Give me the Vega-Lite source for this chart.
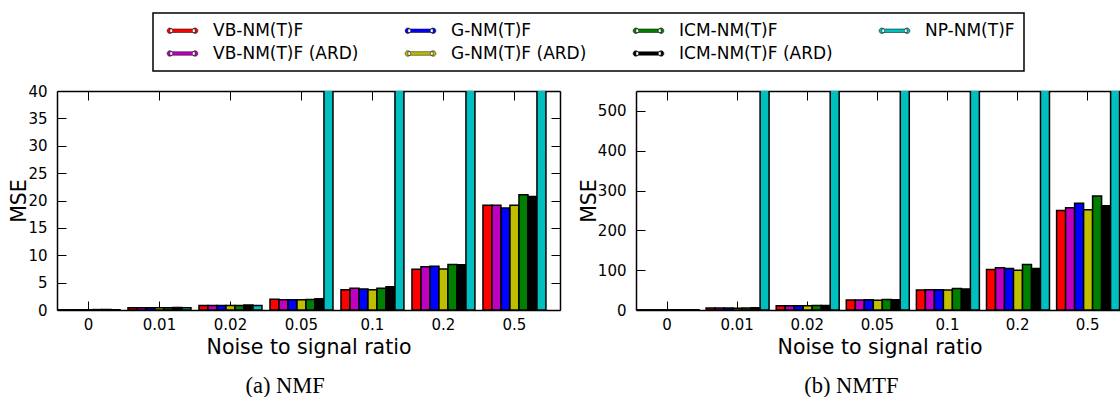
{
  "$schema": "https://vega.github.io/schema/vega-lite/v6.json",
  "background": "white",
  "padding": {"left": 9, "top": 12, "right": 0, "bottom": 0},
  "spacing": 18,
  "datasets": {
    "nmf": [
      {"ratio": "0", "method": "VB-NM(T)F", "mse": 0.04},
      {"ratio": "0", "method": "VB-NM(T)F (ARD)", "mse": 0.04},
      {"ratio": "0", "method": "G-NM(T)F", "mse": 0.05},
      {"ratio": "0", "method": "G-NM(T)F (ARD)", "mse": 0.04},
      {"ratio": "0", "method": "ICM-NM(T)F", "mse": 0.08},
      {"ratio": "0", "method": "ICM-NM(T)F (ARD)", "mse": 0.08},
      {"ratio": "0", "method": "NP-NM(T)F", "mse": 0.06},
      {"ratio": "0.01", "method": "VB-NM(T)F", "mse": 0.40},
      {"ratio": "0.01", "method": "VB-NM(T)F (ARD)", "mse": 0.40},
      {"ratio": "0.01", "method": "G-NM(T)F", "mse": 0.40},
      {"ratio": "0.01", "method": "G-NM(T)F (ARD)", "mse": 0.39},
      {"ratio": "0.01", "method": "ICM-NM(T)F", "mse": 0.41},
      {"ratio": "0.01", "method": "ICM-NM(T)F (ARD)", "mse": 0.45},
      {"ratio": "0.01", "method": "NP-NM(T)F", "mse": 0.42},
      {"ratio": "0.02", "method": "VB-NM(T)F", "mse": 0.82},
      {"ratio": "0.02", "method": "VB-NM(T)F (ARD)", "mse": 0.80},
      {"ratio": "0.02", "method": "G-NM(T)F", "mse": 0.81},
      {"ratio": "0.02", "method": "G-NM(T)F (ARD)", "mse": 0.80},
      {"ratio": "0.02", "method": "ICM-NM(T)F", "mse": 0.83},
      {"ratio": "0.02", "method": "ICM-NM(T)F (ARD)", "mse": 0.92},
      {"ratio": "0.02", "method": "NP-NM(T)F", "mse": 0.84},
      {"ratio": "0.05", "method": "VB-NM(T)F", "mse": 1.95},
      {"ratio": "0.05", "method": "VB-NM(T)F (ARD)", "mse": 1.85},
      {"ratio": "0.05", "method": "G-NM(T)F", "mse": 1.85},
      {"ratio": "0.05", "method": "G-NM(T)F (ARD)", "mse": 1.85},
      {"ratio": "0.05", "method": "ICM-NM(T)F", "mse": 1.9},
      {"ratio": "0.05", "method": "ICM-NM(T)F (ARD)", "mse": 2.05},
      {"ratio": "0.05", "method": "NP-NM(T)F", "mse": 60},
      {"ratio": "0.1", "method": "VB-NM(T)F", "mse": 3.7},
      {"ratio": "0.1", "method": "VB-NM(T)F (ARD)", "mse": 3.95},
      {"ratio": "0.1", "method": "G-NM(T)F", "mse": 3.85},
      {"ratio": "0.1", "method": "G-NM(T)F (ARD)", "mse": 3.7},
      {"ratio": "0.1", "method": "ICM-NM(T)F", "mse": 3.95},
      {"ratio": "0.1", "method": "ICM-NM(T)F (ARD)", "mse": 4.25},
      {"ratio": "0.1", "method": "NP-NM(T)F", "mse": 130},
      {"ratio": "0.2", "method": "VB-NM(T)F", "mse": 7.45},
      {"ratio": "0.2", "method": "VB-NM(T)F (ARD)", "mse": 7.9},
      {"ratio": "0.2", "method": "G-NM(T)F", "mse": 8.0},
      {"ratio": "0.2", "method": "G-NM(T)F (ARD)", "mse": 7.5},
      {"ratio": "0.2", "method": "ICM-NM(T)F", "mse": 8.3},
      {"ratio": "0.2", "method": "ICM-NM(T)F (ARD)", "mse": 8.25},
      {"ratio": "0.2", "method": "NP-NM(T)F", "mse": 260},
      {"ratio": "0.5", "method": "VB-NM(T)F", "mse": 19.15},
      {"ratio": "0.5", "method": "VB-NM(T)F (ARD)", "mse": 19.15},
      {"ratio": "0.5", "method": "G-NM(T)F", "mse": 18.65},
      {"ratio": "0.5", "method": "G-NM(T)F (ARD)", "mse": 19.15},
      {"ratio": "0.5", "method": "ICM-NM(T)F", "mse": 21.05},
      {"ratio": "0.5", "method": "ICM-NM(T)F (ARD)", "mse": 20.75},
      {"ratio": "0.5", "method": "NP-NM(T)F", "mse": 650}
    ],
    "nmtf": [
      {"ratio": "0", "method": "VB-NM(T)F", "mse": 0.5},
      {"ratio": "0", "method": "VB-NM(T)F (ARD)", "mse": 0.5},
      {"ratio": "0", "method": "G-NM(T)F", "mse": 0.5},
      {"ratio": "0", "method": "G-NM(T)F (ARD)", "mse": 0.5},
      {"ratio": "0", "method": "ICM-NM(T)F", "mse": 0.6},
      {"ratio": "0", "method": "ICM-NM(T)F (ARD)", "mse": 0.6},
      {"ratio": "0", "method": "NP-NM(T)F", "mse": 0.8},
      {"ratio": "0.01", "method": "VB-NM(T)F", "mse": 4.8},
      {"ratio": "0.01", "method": "VB-NM(T)F (ARD)", "mse": 4.8},
      {"ratio": "0.01", "method": "G-NM(T)F", "mse": 4.8},
      {"ratio": "0.01", "method": "G-NM(T)F (ARD)", "mse": 4.7},
      {"ratio": "0.01", "method": "ICM-NM(T)F", "mse": 5.0},
      {"ratio": "0.01", "method": "ICM-NM(T)F (ARD)", "mse": 5.5},
      {"ratio": "0.01", "method": "NP-NM(T)F", "mse": 700},
      {"ratio": "0.02", "method": "VB-NM(T)F", "mse": 10.5},
      {"ratio": "0.02", "method": "VB-NM(T)F (ARD)", "mse": 10.6},
      {"ratio": "0.02", "method": "G-NM(T)F", "mse": 10.6},
      {"ratio": "0.02", "method": "G-NM(T)F (ARD)", "mse": 10.4},
      {"ratio": "0.02", "method": "ICM-NM(T)F", "mse": 11.0},
      {"ratio": "0.02", "method": "ICM-NM(T)F (ARD)", "mse": 11.3},
      {"ratio": "0.02", "method": "NP-NM(T)F", "mse": 1200},
      {"ratio": "0.05", "method": "VB-NM(T)F", "mse": 25},
      {"ratio": "0.05", "method": "VB-NM(T)F (ARD)", "mse": 25},
      {"ratio": "0.05", "method": "G-NM(T)F", "mse": 26},
      {"ratio": "0.05", "method": "G-NM(T)F (ARD)", "mse": 24.5},
      {"ratio": "0.05", "method": "ICM-NM(T)F", "mse": 26.5},
      {"ratio": "0.05", "method": "ICM-NM(T)F (ARD)", "mse": 26},
      {"ratio": "0.05", "method": "NP-NM(T)F", "mse": 2500},
      {"ratio": "0.1", "method": "VB-NM(T)F", "mse": 50.5},
      {"ratio": "0.1", "method": "VB-NM(T)F (ARD)", "mse": 51},
      {"ratio": "0.1", "method": "G-NM(T)F", "mse": 51},
      {"ratio": "0.1", "method": "G-NM(T)F (ARD)", "mse": 50},
      {"ratio": "0.1", "method": "ICM-NM(T)F", "mse": 54},
      {"ratio": "0.1", "method": "ICM-NM(T)F (ARD)", "mse": 53},
      {"ratio": "0.1", "method": "NP-NM(T)F", "mse": 4000},
      {"ratio": "0.2", "method": "VB-NM(T)F", "mse": 102},
      {"ratio": "0.2", "method": "VB-NM(T)F (ARD)", "mse": 106},
      {"ratio": "0.2", "method": "G-NM(T)F", "mse": 104},
      {"ratio": "0.2", "method": "G-NM(T)F (ARD)", "mse": 100},
      {"ratio": "0.2", "method": "ICM-NM(T)F", "mse": 114},
      {"ratio": "0.2", "method": "ICM-NM(T)F (ARD)", "mse": 104},
      {"ratio": "0.2", "method": "NP-NM(T)F", "mse": 7000},
      {"ratio": "0.5", "method": "VB-NM(T)F", "mse": 250},
      {"ratio": "0.5", "method": "VB-NM(T)F (ARD)", "mse": 257},
      {"ratio": "0.5", "method": "G-NM(T)F", "mse": 268},
      {"ratio": "0.5", "method": "G-NM(T)F (ARD)", "mse": 252},
      {"ratio": "0.5", "method": "ICM-NM(T)F", "mse": 286},
      {"ratio": "0.5", "method": "ICM-NM(T)F (ARD)", "mse": 262},
      {"ratio": "0.5", "method": "NP-NM(T)F", "mse": 15000}
    ]
  },
  "hconcat": [
    {
      "width": 503,
      "height": 219,
      "data": {"name": "nmf"},
      "title": {"text": "(a) NMF", "orient": "bottom", "anchor": "middle", "frame": "bounds", "font": "Liberation Serif", "fontSize": 22.5, "fontWeight": "normal", "color": "black", "offset": 17},
      "resolve": {"axis": {"x": "independent", "y": "independent"}},
      "layer": [
        {
          "mark": {"type": "bar", "stroke": "black", "strokeWidth": 1.5, "clip": true},
          "encoding": {
            "x": {"field": "ratio", "type": "nominal", "sort": null,
                  "scale": {"paddingInner": 0.113, "paddingOuter": 0.099, "align": 0},
                  "axis": {"orient": "bottom", "title": "Noise to signal ratio", "labelAngle": 0, "labelPadding": 16, "titlePadding": 5}},
            "xOffset": {"field": "method", "type": "nominal",
                        "scale": {"domain": ["VB-NM(T)F", "VB-NM(T)F (ARD)", "G-NM(T)F", "G-NM(T)F (ARD)", "ICM-NM(T)F", "ICM-NM(T)F (ARD)", "NP-NM(T)F"], "paddingInner": 0, "paddingOuter": 0}},
            "y": {"field": "mse", "type": "quantitative",
                  "scale": {"domain": [0, 40], "nice": false},
                  "axis": {"orient": "left", "title": "MSE", "values": [0, 5, 10, 15, 20, 25, 30, 35, 40], "labelPadding": 19, "titlePadding": -2}},
            "color": {"field": "method", "type": "nominal",
                      "scale": {"domain": ["VB-NM(T)F", "VB-NM(T)F (ARD)", "G-NM(T)F", "G-NM(T)F (ARD)", "ICM-NM(T)F", "ICM-NM(T)F (ARD)", "NP-NM(T)F"],
                                "range": ["#ff0000", "#bf00bf", "#0000ff", "#bfbf00", "#008000", "#000000", "#00bfbf"]},
                      "legend": {"title": null}}
          }
        },
        {
          "mark": {"type": "bar", "opacity": 0, "clip": true},
          "encoding": {
            "x": {"field": "ratio", "type": "nominal", "sort": null, "axis": {"orient": "top", "labels": false, "title": null}},
            "y": {"field": "mse", "type": "quantitative", "axis": {"orient": "right", "labels": false, "title": null, "values": [0, 5, 10, 15, 20, 25, 30, 35, 40]}}
          }
        }
      ]
    },
    {
      "width": 487,
      "height": 219,
      "data": {"name": "nmtf"},
      "title": {"text": "(b) NMTF", "orient": "bottom", "anchor": "middle", "frame": "bounds", "font": "Liberation Serif", "fontSize": 22.5, "fontWeight": "normal", "color": "black", "offset": 17},
      "resolve": {"axis": {"x": "independent", "y": "independent"}},
      "layer": [
        {
          "mark": {"type": "bar", "stroke": "black", "strokeWidth": 1.5, "clip": true},
          "encoding": {
            "x": {"field": "ratio", "type": "nominal", "sort": null,
                  "scale": {"paddingInner": 0.113, "paddingOuter": 0.03, "align": 0},
                  "axis": {"orient": "bottom", "title": "Noise to signal ratio", "labelAngle": 0, "labelPadding": 16, "titlePadding": 5}},
            "xOffset": {"field": "method", "type": "nominal",
                        "scale": {"domain": ["VB-NM(T)F", "VB-NM(T)F (ARD)", "G-NM(T)F", "G-NM(T)F (ARD)", "ICM-NM(T)F", "ICM-NM(T)F (ARD)", "NP-NM(T)F"], "paddingInner": 0, "paddingOuter": 0}},
            "y": {"field": "mse", "type": "quantitative",
                  "scale": {"domain": [0, 550], "nice": false},
                  "axis": {"orient": "left", "title": "MSE", "values": [0, 100, 200, 300, 400, 500], "labelPadding": 19, "titlePadding": -2}},
            "color": {"field": "method", "type": "nominal",
                      "scale": {"domain": ["VB-NM(T)F", "VB-NM(T)F (ARD)", "G-NM(T)F", "G-NM(T)F (ARD)", "ICM-NM(T)F", "ICM-NM(T)F (ARD)", "NP-NM(T)F"],
                                "range": ["#ff0000", "#bf00bf", "#0000ff", "#bfbf00", "#008000", "#000000", "#00bfbf"]},
                      "legend": {"title": null}}
          }
        },
        {
          "mark": {"type": "bar", "opacity": 0, "clip": true},
          "encoding": {
            "x": {"field": "ratio", "type": "nominal", "sort": null, "axis": {"orient": "top", "labels": false, "title": null}},
            "y": {"field": "mse", "type": "quantitative", "axis": {"orient": "right", "labels": false, "title": null, "values": [0, 100, 200, 300, 400, 500]}}
          }
        }
      ]
    }
  ],
  "config": {
    "view": {"stroke": null},
    "font": "DejaVu Sans",
    "axis": {
      "domainColor": "black", "domainWidth": 1.5,
      "tickColor": "black", "tickWidth": 1, "tickSize": -9,
      "labelFont": "DejaVu Sans", "labelFontSize": 15, "labelColor": "black",
      "titleFont": "DejaVu Sans", "titleFontSize": 20.5, "titleFontWeight": "normal", "titleColor": "black",
      "grid": false, "zindex": 1
    },
    "legend": {
      "orient": "none", "legendX": 96, "legendY": -78,
      "columns": 4,
      "strokeColor": "black", "strokeWidth": 1.5, "padding": 9,
      "labelFont": "DejaVu Sans", "labelFontSize": 17, "labelColor": "black", "labelLimit": 400,
      "labelOffset": 34,
      "symbolSize": 64,
      "symbolType": "M-0.15,-0.44H6.15V0.44H-0.15Z M-0.85,0A0.7,0.7 0 1,0 0.55,0A0.7,0.7 0 1,0 -0.85,0Z M5.45,0A0.7,0.7 0 1,0 6.85,0A0.7,0.7 0 1,0 5.45,0Z",
      "symbolStrokeColor": "black", "symbolStrokeWidth": 0.5,
      "columnPadding": 41, "rowPadding": 5
    }
  }
}
